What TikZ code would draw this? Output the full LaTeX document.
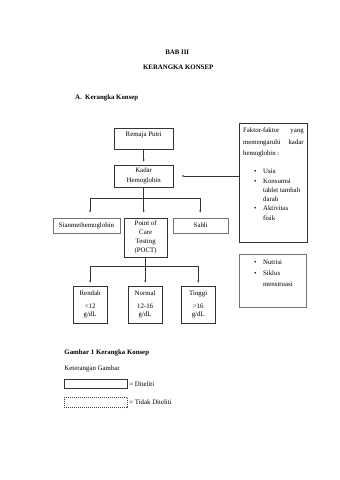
\documentclass[tikz,border=0pt]{standalone}
\usepackage{fontspec}
\setmainfont{Liberation Serif}
\usetikzlibrary{arrows.meta}
\newcommand\mybul{\makebox[15.6pt][l]{\textbullet}}
\begin{document}
\begin{tikzpicture}[x=1.756pt,y=-1.754pt,
  every node/.style={font=\fontsize{12}{13}\selectfont, text=black},
  box/.style={draw=black!80, line width=1pt, align=center, inner sep=0pt},
  dotbox/.style={box, draw=black!55, line width=1pt, dash pattern=on 0.7pt off 0.7pt},
  arr/.style={line width=1pt, draw=black!80, -{Latex[length=4pt,width=3.6pt]}},
  ln/.style={line width=1pt, draw=black!80},
  txt/.style={anchor=base west, inner sep=0pt},
  bold/.style={font=\fontsize{12}{13}\selectfont\bfseries},
  ttl/.style={anchor=base, inner sep=0pt, bold},
]
\useasboundingbox (0,0) rectangle (339,480);

% titles
\node[ttl] (bab) at (177,54.5) {BAB III};
\node[ttl] (kk) at (178,70) {KERANGKA KONSEP};
\node[txt, bold] (sub) at (75,99.3) {\makebox[17.6pt][l]{A.}Kerangka Konsep};

% main boxes
\node[box, minimum width=103.6pt, minimum height=36.8pt, text depth=14.6pt] (remaja) at (143.5,138.8) {Remaja Putri};
\node[box, minimum width=103.6pt, minimum height=38.6pt] (kadar) at (143.5,176) {Kadar\\[3.3pt]Hemoglobin};
\node[dotbox, minimum width=118.2pt, minimum height=26.3pt] (sian) at (86.4,225.5) {Sianmethemoglobin};
\node[box, minimum width=75.5pt, minimum height=68.4pt] (poct) at (145.5,237.5) {Point of\\[2.6pt]Care\\[2.6pt]Testing\\[2.6pt](POCT)};
\node[dotbox, minimum width=96.6pt, minimum height=26.3pt] (sahli) at (200.5,225.5) {Sahli};
\node[box, minimum width=59.7pt, minimum height=65pt] (rendah) at (90,304.5) {Rendah\\[10pt]<12\\g/dL};
\node[box, minimum width=59.7pt, minimum height=65pt] (normal) at (145,304.5) {Normal\\[10pt]12-16\\g/dL};
\node[box, minimum width=59.7pt, minimum height=65pt] (tinggi) at (198,304.5) {Tinggi\\[10pt]>16\\g/dL};

% faktor box
\node[box, minimum width=119.4pt, minimum height=208.7pt] (faktor) at (273,182.5) {};
\node[txt] (f1) at (242.7,132.3) {\makebox[106.4pt][s]{Faktor-faktor\hfill yang}};
\node[txt] (f2) at (242.7,144) {\makebox[106.4pt][s]{memengaruhi\hfill kadar}};
\node[txt] (f3) at (242.7,155) {hemoglobin :};
\node[txt] (u1) at (253.8,173.3) {\mybul Usia};
\node[txt] (u2) at (253.8,183.3) {\mybul Konsumsi};
\node[txt] (u3) at (262.7,192.5) {tablet tambah};
\node[txt] (u4) at (262.7,201.6) {darah};
\node[txt] (u5) at (253.8,210.6) {\mybul Aktivitas};
\node[txt] (u6) at (262.7,220.6) {fisik};

% nutrisi box
\node[dotbox, minimum width=117.7pt, minimum height=93pt] (nutri) at (272.5,280.5) {};
\node[txt] (n1) at (253.8,264) {\mybul Nutrisi};
\node[txt] (n2) at (253.8,275.6) {\mybul Siklus};
\node[txt] (n3) at (262.7,286.6) {menstruasi};

% connectors
\coordinate (b1) at (90,198);
\coordinate (b2) at (200,198);
\coordinate (c1) at (90,266);
\coordinate (c3) at (198,266);
\draw[arr, shorten >=5pt] (remaja) -- (kadar);
\draw[ln] (b1) -- (b2);
\draw[arr, shorten >=9pt] (kadar.south) -- (kadar.south |- poct.north);
\draw[arr, shorten >=9pt] (b1) -- (b1 |- sian.north);
\draw[arr, shorten >=9pt] (b2) -- (b2 |- sahli.north);
\draw[arr, shorten >=14pt] (faktor.west |- kadar.east) -- (kadar.east);
\draw[ln] (poct.south) -- (poct.south |- c1);
\draw[ln] (c1) -- (c3);
\draw[arr, shorten >=5pt] (c1) -- (rendah.north);
\draw[arr, shorten >=5pt] (normal.north |- c1) -- (normal.north);
\draw[arr, shorten >=5pt] (c3) -- (tinggi.north);

% legend
\node[txt, bold] (cap) at (64.3,354) {Gambar 1 Kerangka Konsep};
\node[txt] (ket) at (64.3,370) {Keterangan Gambar};
\node[box, minimum width=110.6pt, minimum height=17pt] (lg1) at (95.8,383.8) {};
\node[dotbox, draw=black!75, dash pattern=on 1.756pt off 1.756pt, minimum width=110.6pt, minimum height=18.2pt] (lg2) at (95.8,402.5) {};
\node[txt] (lt1) at (129,386) {= Diteliti};
\node[txt] (lt2) at (129,404.5) {= Tidak Diteliti};
\end{tikzpicture}
\end{document}
